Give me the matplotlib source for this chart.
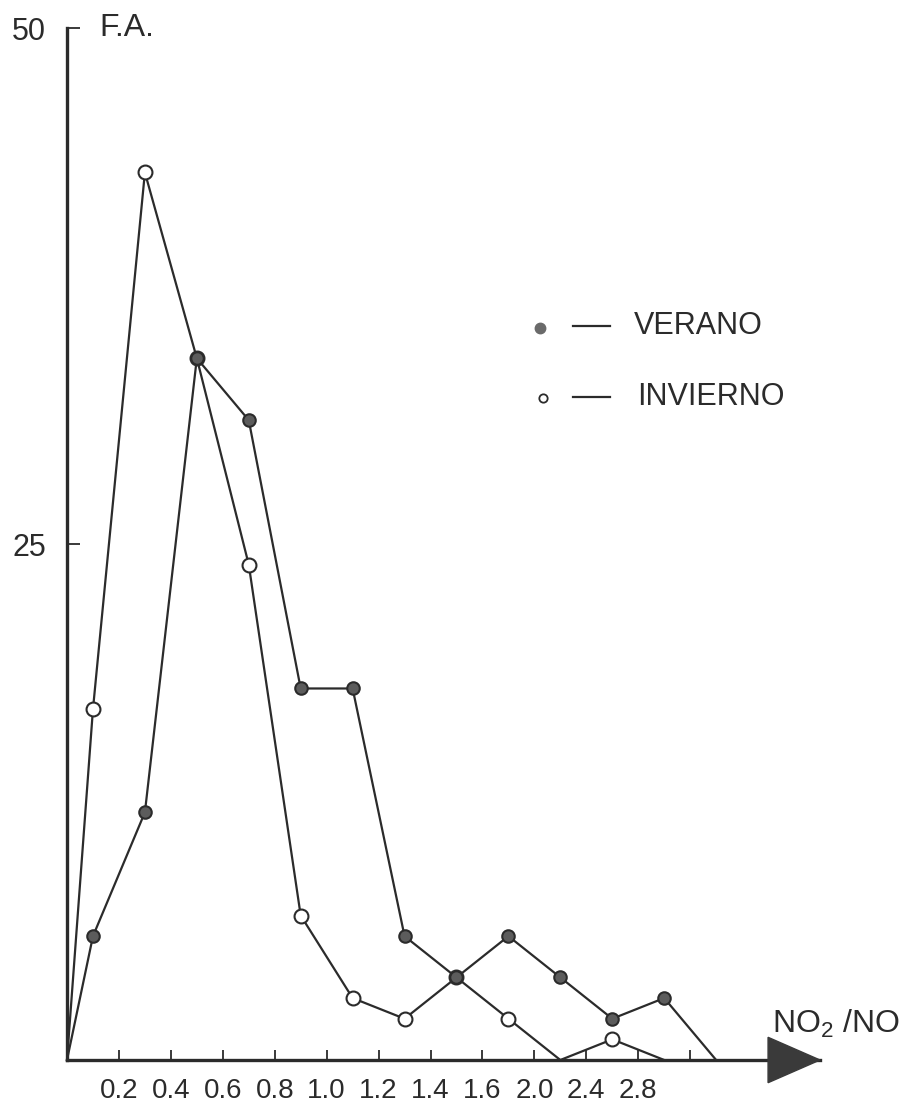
#Frecuencia absoluta de la razon NO2/NO - verano e invierno
import numpy as np
import matplotlib
matplotlib.use('Agg')
from matplotlib import pyplot as plt
from matplotlib.patches import Polygon

plt.rcParams['font.family'] = ['Liberation Sans', 'DejaVu Sans']
plt.rcParams['mathtext.default'] = 'regular'

#Datos (clases en posiciones 0.5, 1.5, ...)
tick_labels = ['0.2', '0.4', '0.6', '0.8', '1.0', '1.2', '1.4', '1.6', '2.0', '2.4', '2.8', '']
verano = [6, 12, 34, 31, 18, 18, 6, 4, 6, 4, 2, 3, 0]
invierno = [17, 43, 34, 24, 7, 3, 2, 4, 2, 0, 1, 0]

ink = '#2b2b2b'

fig = plt.figure(figsize=(9.03, 11.03), dpi=100)
ax = fig.add_axes([67/903, 43/1103, 753/903, 1032/1103])

#Series: arrancan en el origen
for serie, face, ms, zorder in [(invierno, 'white', 10, 2), (verano, '#5c5c5c', 9, 3)]:
    x = np.concatenate([[0], np.arange(len(serie)) + 0.5])
    y = np.concatenate([[0], serie])
    marks = [i for i in range(len(y)) if y[i] > 0]
    ax.plot(x, y, color=ink, lw=1.6, marker='o', markevery=marks,
            markersize=ms, markerfacecolor=face, markeredgecolor=ink,
            markeredgewidth=1.5, zorder=zorder, clip_on=False)

#Ejes
ax.set_xlim(0, 14.5)
ax.set_ylim(0, 50)
for side in ['top', 'right']:
    ax.spines[side].set_visible(False)
ax.spines['left'].set_linewidth(2.4)
ax.spines['bottom'].set_linewidth(2.4)
ax.spines['left'].set_color(ink)
ax.spines['bottom'].set_color(ink)

ax.set_xticks(np.arange(1, len(tick_labels) + 1))
ax.set_xticklabels(tick_labels)
ax.set_yticks([25, 50])
ax.tick_params(axis='x', direction='in', length=7, width=1.3, color=ink,
               pad=13, labelsize=20, labelcolor=ink)
ax.tick_params(axis='y', direction='in', length=9, width=1.3, color=ink,
               pad=15, labelsize=22, labelcolor=ink)

#Flecha del eje x
tri = Polygon([[13.5, -1.1], [13.5, 1.1], [14.5, 0]], closed=True,
              facecolor='#3a3a3a', edgecolor='#3a3a3a', clip_on=False, zorder=4)
ax.add_patch(tri)

ax.text(0.62, 50, 'F.A.', fontsize=23, color=ink, va='center', ha='left')
ax.text(13.58, 1.3, 'NO$_{2}$ /NO', fontsize=23, color=ink, va='baseline', ha='left')

#Leyenda
ax.plot([540/903], [1 - 328/1103], 'o', transform=fig.transFigure, markersize=7.5,
        color='#6a6a6a', clip_on=False)
ax.plot([543/903], [1 - 398/1103], 'o', transform=fig.transFigure, markersize=6,
        markerfacecolor='white', markeredgecolor=ink, markeredgewidth=1.3, clip_on=False)
for yy in [326, 397]:
    ax.plot([573/903, 610/903], [1 - yy/1103] * 2, transform=fig.transFigure,
            color=ink, lw=1.6, clip_on=False)
fig.text(634/903, 1 - 326/1103, 'VERANO', fontsize=22, color=ink, va='center')
fig.text(637/903, 1 - 397/1103, 'INVIERNO', fontsize=22, color=ink, va='center')

plt.savefig('out.png', dpi=100)
